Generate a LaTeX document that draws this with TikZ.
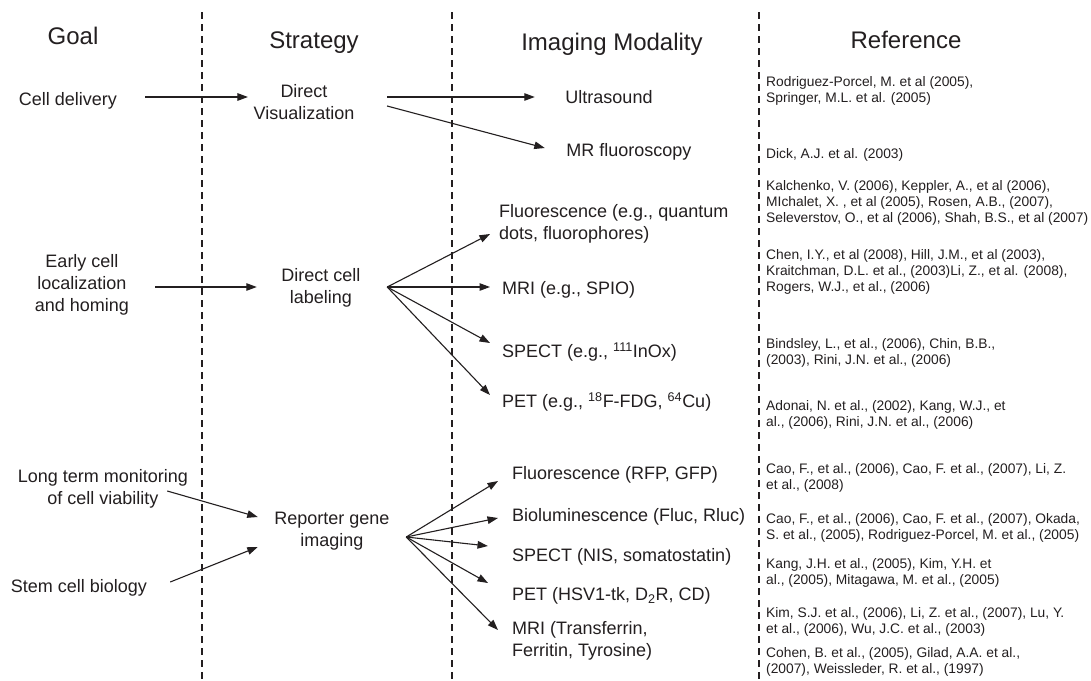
\documentclass[tikz,border=0pt]{standalone}
\usepackage{fontspec}
\setmainfont{Liberation Sans}
\usetikzlibrary{arrows.meta,calc}
\definecolor{ink}{RGB}{35,31,32}
\begin{document}
\begin{tikzpicture}[x=1pt,y=-1pt,
  every node/.style={text=ink},
  hdr/.style={font=\fontsize{24}{28}\selectfont, inner sep=0, anchor=base},
  lbl/.style={font=\fontsize{18}{22}\selectfont, inner sep=0, align=center},
  lblone/.style={font=\fontsize{18}{22}\selectfont, inner sep=0, text height=13pt, text depth=0pt},
  mod/.style={font=\fontsize{18}{22}\selectfont, inner sep=0, align=left, anchor=west},
  modone/.style={font=\fontsize{18}{22}\selectfont, inner sep=0, anchor=west, text height=13pt, text depth=0pt},
  ref/.style={font=\fontsize{13.8}{15.8}\selectfont, inner sep=0, align=left, anchor=west},
  sep/.style={draw=ink, line width=1.8pt, dash pattern=on 7pt off 5pt},
  arr/.style={draw=ink, line width=1.1pt, -{Triangle[length=10.5pt,width=7.5pt]}},
]
\useasboundingbox[fill=white] (0,0) rectangle (1091,680);

% column separators
\draw[sep] (202,12) -- (202,680);
\draw[sep] (452,12) -- (452,680);
\draw[sep, line width=1.5pt] (759,12) -- (759,680);

% headers
\node[hdr] (hgoal) at (73,44) {Goal};
\node[hdr] (hstrat) at (314,48) {Strategy};
\node[hdr] (himg) at (612,50) {Imaging Modality};
\node[hdr] (href) at (906,48) {Reference};

% goals
\node[lblone] (cd) at (68,99) {Cell delivery};
\node[lbl] (ec) at (82,285) {Early cell\\localization\\and homing};
\node[lbl] (lt) at (103,489) {Long term monitoring\\of cell viability};
\node[lblone] (sc) at (79,586) {Stem cell biology};

% strategies
\node[lbl] (dv) at (304,102) {Direct\\Visualization};
\node[lbl] (dcl) at (321,288) {Direct cell\\labeling};
\node[lbl] (rg) at (332,531) {Reporter gene\\imaging};

% modalities
\node[lblone] (us) at (609,97) {Ultrasound};
\node[lblone] (mrf) at (629,150) {MR fluoroscopy};

\node[mod] (fq) at (499,224) {Fluorescence (e.g., quantum\\dots, fluorophores)};
\node[modone] (mri) at (502,288) {MRI (e.g., SPIO)};
\node[modone] (spect) at (502,351) {SPECT (e.g., \textsuperscript{111}InOx)};
\node[modone] (pet) at (502,401) {PET (e.g., \textsuperscript{18}F-FDG, \textsuperscript{64}Cu)};

\node[modone] (rfp) at (512,473) {Fluorescence (RFP, GFP)};
\node[modone] (bio) at (512,515) {Bioluminescence (Fluc, Rluc)};
\node[modone] (rspect) at (512,555) {SPECT (NIS, somatostatin)};
\node[modone] (rpet) at (512,594) {PET (HSV1-tk, D\textsubscript{2}R, CD)};
\node[mod] (rmri) at (512,641) {MRI (Transferrin,\\Ferritin, Tyrosine)};

% references
\node[ref] (r1) at (766,91) {Rodriguez-Porcel, M. et al (2005),\\Springer, M.L. et al. (2005)};
\node[ref] (r2) at (766,155) {Dick, A.J. et al. (2003)};
\node[ref] (r3) at (766,203) {Kalchenko, V. (2006), Keppler, A., et al (2006),\\MIchalet, X. , et al (2005), Rosen, A.B., (2007),\\Seleverstov, O., et al (2006), Shah, B.S., et al (2007)};
\node[ref] (r4) at (766,272) {Chen, I.Y., et al (2008), Hill, J.M., et al (2003),\\Kraitchman, D.L. et al., (2003)Li, Z., et al. (2008),\\Rogers, W.J., et al., (2006)};
\node[ref] (r5) at (766,353) {Bindsley, L., et al., (2006), Chin, B.B.,\\(2003), Rini, J.N. et al., (2006)};
\node[ref] (r6) at (766,415) {Adonai, N. et al., (2002), Kang, W.J., et\\al., (2006), Rini, J.N. et al., (2006)};
\node[ref] (r7) at (766,478) {Cao, F., et al., (2006), Cao, F. et al., (2007), Li, Z.\\et al., (2008)};
\node[ref] (r8) at (766,528) {Cao, F., et al., (2006), Cao, F. et al., (2007), Okada,\\S. et al., (2005), Rodriguez-Porcel, M. et al., (2005)};
\node[ref] (r9) at (766,573) {Kang, J.H. et al., (2005), Kim, Y.H. et\\al., (2005), Mitagawa, M. et al., (2005)};
\node[ref] (r10) at (766,622) {Kim, S.J. et al., (2006), Li, Z. et al., (2007), Lu, Y.\\et al., (2006), Wu, J.C. et al., (2003)};
\node[ref] (r11) at (766,662) {Cohen, B. et al., (2005), Gilad, A.A. et al.,\\(2007), Weissleder, R. et al., (1997)};

% goal -> strategy
\draw[arr] ($(cd.east)+(28,-2)$) -- ($(dv.west)+(-5.5,-5)$);
\draw[arr] ($(ec.east)+(26,2)$) -- ($(dcl.west)+(-24.5,-1)$);
\draw[arr] ($(lt.east)+(-21,2)$) -- ($(rg.west)+(-16.5,-14)$);
\draw[arr] ($(sc.east)+(23,-4)$) -- ($(rg.west)+(-16.5,16)$);

% strategy -> modality
\draw[arr] ($(dv.east)+(32.5,-5)$) -- ($(us.west)+(-30.5,0)$);
\draw[arr] ($(dv.east)+(32.5,4)$) -- ($(mrf.west)+(-21.5,-2)$);

\coordinate (dclo) at ($(dcl.east)+(26.5,-1)$);
\draw[arr] (dclo) -- ($(fq.west)+(-9,10)$);
\draw[arr] (dclo) -- ($(mri.west)+(-12,-1)$);
\draw[arr] (dclo) -- ($(spect.west)+(-12,-8)$);
\draw[arr] (dclo) -- ($(pet.west)+(-12,-6)$);

\coordinate (rgo) at ($(rg.east)+(16.5,6)$);
\draw[arr] (rgo) -- ($(rfp.west)+(-14,8)$);
\draw[arr] (rgo) -- ($(bio.west)+(-14,3)$);
\draw[arr] (rgo) -- ($(rspect.west)+(-24,-9)$);
\draw[arr] (rgo) -- ($(rpet.west)+(-24,-11)$);
\draw[arr] (rgo) -- ($(rmri.west)+(-14,-11)$);
\end{tikzpicture}
\end{document}
